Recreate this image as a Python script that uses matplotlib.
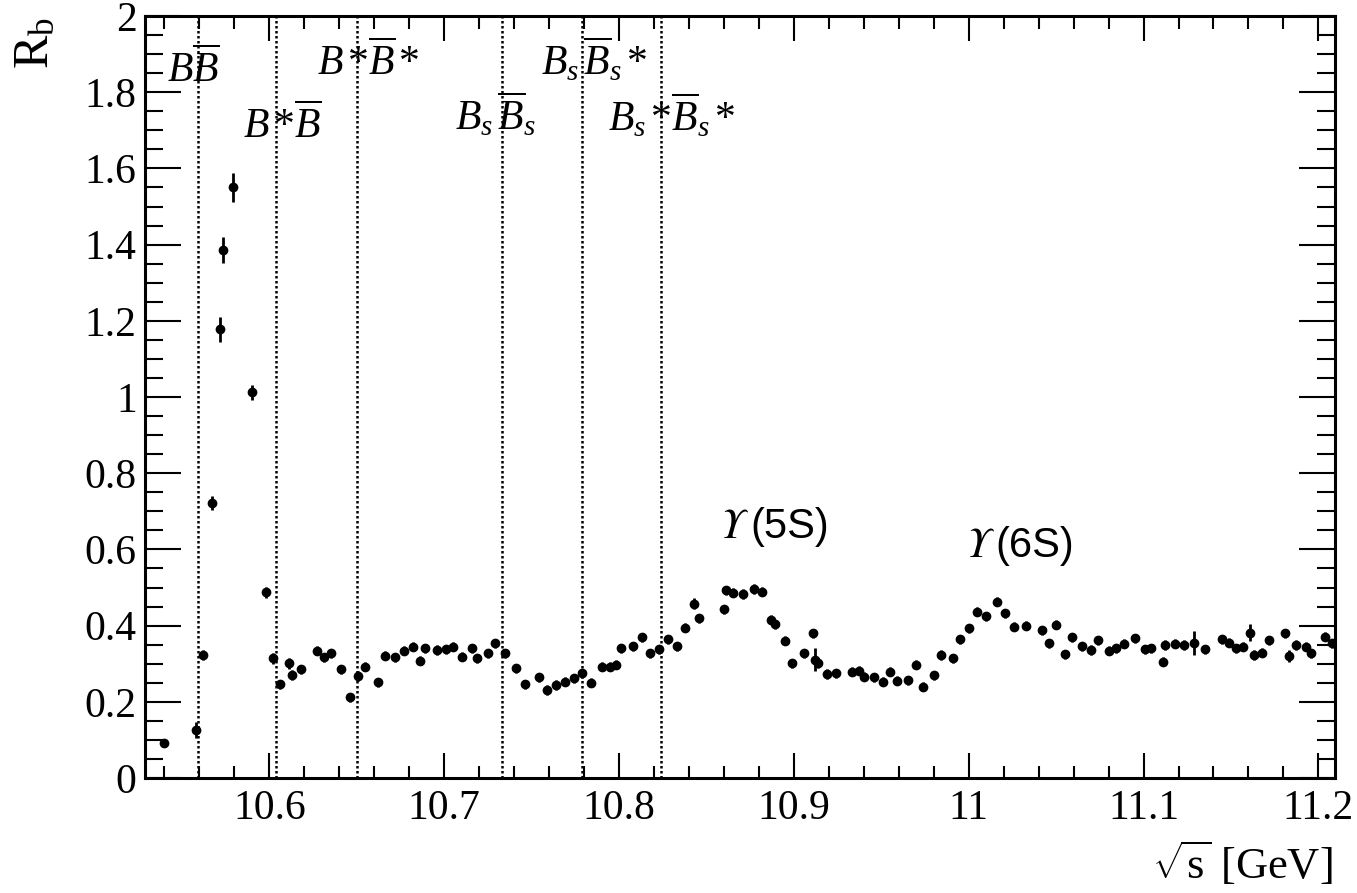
import matplotlib
matplotlib.use("Agg")
import matplotlib.pyplot as plt
from matplotlib.ticker import MultipleLocator
from matplotlib.transforms import offset_copy

plt.rcParams['font.family'] = ['Liberation Serif', 'DejaVu Serif']
plt.rcParams['mathtext.fontset'] = 'custom'
plt.rcParams['mathtext.rm'] = 'Liberation Serif'
plt.rcParams['mathtext.it'] = 'Liberation Serif:italic'

# centre-of-mass energy scan points (GeV) and R_b values
sqrt_s = [10.540, 10.558, 10.562, 10.567, 10.5718, 10.5733, 10.579, 10.590, 10.598,
          10.602, 10.606, 10.611, 10.613, 10.618, 10.627, 10.631, 10.635, 10.641,
          10.646, 10.651, 10.655, 10.662, 10.666, 10.672, 10.677, 10.682, 10.686,
          10.689, 10.696, 10.701, 10.705, 10.710, 10.716, 10.719, 10.725, 10.729,
          10.735, 10.741, 10.746, 10.754, 10.759, 10.764, 10.769, 10.774, 10.779,
          10.784, 10.790, 10.795, 10.798, 10.801, 10.808, 10.813, 10.818, 10.823,
          10.828, 10.833, 10.838, 10.843, 10.846, 10.860, 10.861, 10.865, 10.871,
          10.877, 10.882, 10.887, 10.889, 10.895, 10.899, 10.906, 10.911, 10.912,
          10.914, 10.919, 10.924, 10.933, 10.937, 10.940, 10.946, 10.951, 10.955,
          10.959, 10.965, 10.970, 10.974, 10.980, 10.984, 10.991, 10.995, 11.000,
          11.005, 11.010, 11.016, 11.021, 11.026, 11.033, 11.042, 11.046, 11.050,
          11.055, 11.059, 11.065, 11.070, 11.074, 11.080, 11.084, 11.089, 11.095,
          11.101, 11.104, 11.111, 11.112, 11.118, 11.123, 11.129, 11.135, 11.145,
          11.149, 11.153, 11.157, 11.161, 11.163, 11.168, 11.172, 11.181, 11.183,
          11.187, 11.193, 11.196, 11.204, 11.208]
r_b = [0.093, 0.126, 0.323, 0.721, 1.178, 1.386, 1.550, 1.012, 0.487,
       0.314, 0.246, 0.301, 0.270, 0.285, 0.334, 0.317, 0.327, 0.285,
       0.212, 0.268, 0.292, 0.251, 0.321, 0.317, 0.334, 0.345, 0.308,
       0.340, 0.336, 0.338, 0.345, 0.318, 0.340, 0.314, 0.327, 0.354,
       0.327, 0.288, 0.246, 0.264, 0.231, 0.244, 0.253, 0.262, 0.275,
       0.250, 0.292, 0.292, 0.297, 0.340, 0.346, 0.369, 0.327, 0.338,
       0.364, 0.346, 0.394, 0.458, 0.419, 0.443, 0.493, 0.486, 0.483,
       0.496, 0.489, 0.415, 0.404, 0.360, 0.301, 0.327, 0.380, 0.311,
       0.301, 0.273, 0.275, 0.279, 0.282, 0.266, 0.264, 0.253, 0.279,
       0.255, 0.257, 0.297, 0.240, 0.270, 0.323, 0.314, 0.364, 0.393,
       0.437, 0.425, 0.463, 0.432, 0.397, 0.400, 0.388, 0.354, 0.402,
       0.325, 0.369, 0.346, 0.336, 0.362, 0.334, 0.340, 0.352, 0.367,
       0.338, 0.340, 0.305, 0.349, 0.352, 0.349, 0.354, 0.338, 0.364,
       0.355, 0.340, 0.345, 0.381, 0.323, 0.329, 0.362, 0.380, 0.320,
       0.349, 0.345, 0.327, 0.371, 0.354]
r_b_err = [0.008, 0.020, 0.012, 0.018, 0.033, 0.034, 0.037, 0.020, 0.015,
           0.014, 0.012, 0.014, 0.014, 0.012, 0.012, 0.012, 0.012, 0.012,
           0.012, 0.014, 0.012, 0.012, 0.012, 0.012, 0.012, 0.012, 0.012,
           0.012, 0.012, 0.012, 0.012, 0.012, 0.012, 0.012, 0.012, 0.012,
           0.012, 0.012, 0.012, 0.012, 0.012, 0.012, 0.012, 0.012, 0.012,
           0.012, 0.012, 0.012, 0.012, 0.012, 0.012, 0.012, 0.012, 0.012,
           0.012, 0.012, 0.012, 0.014, 0.012, 0.012, 0.012, 0.012, 0.012,
           0.012, 0.012, 0.012, 0.012, 0.012, 0.012, 0.012, 0.012, 0.030,
           0.012, 0.012, 0.012, 0.012, 0.012, 0.012, 0.012, 0.012, 0.012,
           0.012, 0.012, 0.012, 0.012, 0.012, 0.012, 0.012, 0.012, 0.012,
           0.012, 0.012, 0.012, 0.012, 0.012, 0.012, 0.012, 0.012, 0.012,
           0.012, 0.012, 0.012, 0.012, 0.012, 0.012, 0.012, 0.012, 0.012,
           0.012, 0.012, 0.012, 0.012, 0.012, 0.012, 0.031, 0.012, 0.012,
           0.012, 0.012, 0.012, 0.022, 0.012, 0.012, 0.012, 0.012, 0.015,
           0.012, 0.012, 0.012, 0.012, 0.012]

# open-flavour thresholds (GeV) and their labels
thresholds = [10.559, 10.604, 10.650, 10.733, 10.779, 10.824]
threshold_labels = [r'$B\overline{B}$',
                    r'$B\,$*$\overline{B}$',
                    r'$B\,$*$\overline{B}\,$*',
                    r'$B_{s}\,\overline{B}_{s}$',
                    r'$B_{s}\,\overline{B}_{s}\,$*',
                    r'$B_{s}\,$*$\overline{B}_{s}\,$*']
label_x = [10.5415, 10.5849, 10.6273, 10.7064, 10.7551, 10.7935]
label_y = [1.827, 1.680, 1.845, 1.701, 1.845, 1.698]

# bottomonium resonance labels
res_names = ['(5S)', '(6S)']
res_x = [10.8583, 10.9987]
res_y = [0.630, 0.580]

fig = plt.figure(figsize=(13.57, 8.93), dpi=100)
ax = fig.add_axes([145/1357, 1-778/893, (1335-145)/1357, (778-16)/893])

for xt in thresholds:
    ax.axvline(xt, color='black', lw=1.8, ls=(0, (1, 1)), zorder=1)

ax.errorbar(sqrt_s, r_b, yerr=r_b_err, xerr=0.0018, fmt='o', color='black',
            ms=6, elinewidth=2, capsize=0, zorder=3)

for txt, xl, yl in zip(threshold_labels, label_x, label_y):
    ax.text(xl, yl, txt, fontsize=30, ha='left', va='baseline')

for name, xl, yl in zip(res_names, res_x, res_y):
    ax.text(xl, yl, '\u03a5', fontsize=30, ha='left', va='baseline',
            family='STIXGeneral', style='italic')
    tr = offset_copy(ax.transData, fig=fig, x=29, y=0, units='dots')
    ax.text(xl, yl, name, fontsize=30, ha='left', va='baseline',
            family='Liberation Sans', transform=tr)

ax.set_xlim(10.5289, 11.2095)
ax.set_ylim(0, 2)
ax.xaxis.set_major_locator(MultipleLocator(0.1))
ax.xaxis.set_minor_locator(MultipleLocator(0.02))
ax.yaxis.set_major_locator(MultipleLocator(0.2))
ax.yaxis.set_minor_locator(MultipleLocator(0.05))
ax.xaxis.set_major_formatter(plt.FuncFormatter(lambda v, p: f'{v:g}'))
ax.yaxis.set_major_formatter(plt.FuncFormatter(lambda v, p: f'{v:g}'))

ax.tick_params(which='both', direction='in', top=True, right=True, width=1.5,
               labelsize=30)
ax.tick_params(axis='x', which='major', length=18, pad=8)
ax.tick_params(axis='x', which='minor', length=9)
ax.tick_params(axis='y', which='major', length=26, pad=6)
ax.tick_params(axis='y', which='minor', length=13)
for sp in ax.spines.values():
    sp.set_linewidth(2.2)

fig.text(13/1357, 1-17/893, r'R$_\mathrm{b}$', fontsize=36, rotation=90,
         ha='left', va='top')
fig.text(1333/1357, 1-888/893, r'$\sqrt{\mathrm{s}}$ [GeV]', fontsize=32,
         ha='right', va='bottom')

fig.savefig('out.png', dpi=100)
